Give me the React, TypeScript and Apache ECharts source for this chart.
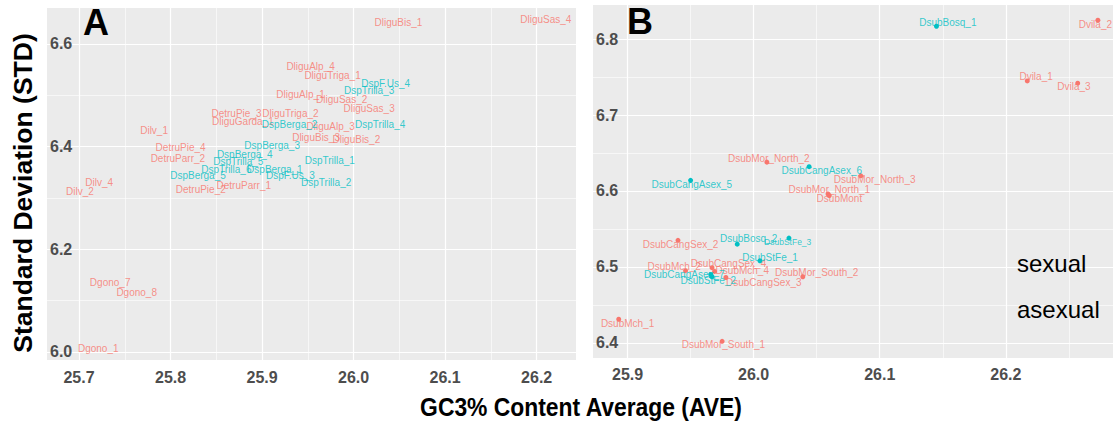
import React, { useEffect, useRef } from "react";
import * as echarts from "echarts";

const SEXUAL_COLOR = "#F8766D";
const ASEXUAL_COLOR = "#00BFC4";
const FONT = "'Liberation Sans', Arial, Helvetica, sans-serif";

// ---------- Panel A (labels only) ----------
const A_SEX_NAMES = [
  "DliguBis_1", "DliguSas_4", "DliguAlp_4", "DliguTriga_1", "DliguAlp_1", "DliguSas_2",
  "DliguSas_3", "DliguTriga_2", "DliguAlp_3", "DliguBis_3", "DliguBis_2", "DetruPie_3",
  "DliguGarda_1", "Dilv_1", "DetruPie_4", "DetruParr_2", "DetruParr_1", "DetruPie_2",
  "Dilv_4", "Dilv_2", "Dgono_7", "Dgono_8", "Dgono_1",
];
const A_SEX_X = [
  26.049, 26.21, 25.953, 25.977, 25.942, 25.987,
  26.017, 25.931, 25.975, 25.959, 26.003, 25.872,
  25.879, 25.782, 25.811, 25.808, 25.88, 25.833,
  25.722, 25.701, 25.734, 25.763, 25.721,
];
const A_SEX_Y = [
  6.642, 6.648, 6.556, 6.538, 6.501, 6.491,
  6.475, 6.464, 6.439, 6.418, 6.414, 6.464,
  6.449, 6.432, 6.399, 6.377, 6.325, 6.316,
  6.33, 6.312, 6.136, 6.115, 6.007,
];
const A_ASEX_NAMES = [
  "DspF.Us_4", "DspTrilla_3", "DspBerga_2", "DspTrilla_4", "DspBerga_3", "DspTrilla_1",
  "DspBerga_1", "DspF.Us_3", "DspTrilla_2", "DspBerga_4", "DspTrilla_5", "DspTrilla_6",
  "DspBerga_5",
];
const A_ASEX_X = [
  26.035, 26.017, 25.93, 26.029, 25.911, 25.974,
  25.914, 25.931, 25.97, 25.881, 25.874, 25.861,
  25.83,
];
const A_ASEX_Y = [
  6.523, 6.509, 6.442, 6.442, 6.402, 6.373,
  6.356, 6.343, 6.33, 6.385, 6.371, 6.356,
  6.343,
];

// ---------- Panel B (points + labels) ----------
const B_SEX_NAMES = [
  "DsubMor_North_2", "DsubMor_North_3", "DsubMor_North_1", "DsubMont", "DsubCangSex_2",
  "DsubCangSex_4", "DsubMch_4", "DsubMch_2", "DsubCangSex_3", "DsubMor_South_2",
  "DsubMch_1", "DsubMor_South_1", "Dvila_2", "Dvila_1", "Dvila_3",
];
const B_SEX_X = [26.0105, 26.085, 26.059, 26.06, 25.94, 25.967, 25.969, 25.946, 25.978, 26.039, 25.893, 25.975, 26.273, 26.217, 26.257];
const B_SEX_Y = [6.638, 6.62, 6.596, 6.594, 6.535, 6.499, 6.494, 6.495, 6.486, 6.487, 6.431, 6.402, 6.825, 6.745, 6.742];
const B_SEX_LABEL_X = [26.012, 26.096, 26.06, 26.068, 25.942, 25.98, 25.991, 25.937, 26.008, 26.05, 25.9, 25.976, 26.271, 26.224, 26.254];
const B_SEX_LABEL_Y = [6.643, 6.615, 6.602, 6.59, 6.529, 6.505, 6.495, 6.501, 6.48, 6.492, 6.426, 6.398, 6.819, 6.751, 6.738];

const B_ASEX_NAMES = [
  "DsubCangAsex_6", "DsubCangAsex_5", "DsubBosq_2", "DsubStFe_3", "DsubStFe_1",
  "DsubCangAsex_7", "DsubStFe_2", "DsubBosq_1",
];
const B_ASEX_X = [26.044, 25.95, 25.987, 26.028, 26.005, 25.966, 25.967, 26.145];
const B_ASEX_Y = [6.632, 6.614, 6.53, 6.538, 6.508, 6.49, 6.487, 6.817];
const B_ASEX_LABEL_X = [26.054, 25.951, 25.996, 26.027, 26.013, 25.945, 25.964, 26.154];
const B_ASEX_LABEL_Y = [6.627, 6.609, 6.537, 6.533, 6.513, 6.49, 6.482, 6.822];
const B_SMALL_LABELS = ["DsubStFe_3"];

// ---------- Axes ----------
const A_X_RANGE = [25.665, 26.243];
const A_Y_RANGE = [5.984, 6.67];
const B_X_RANGE = [25.8726, 26.285];
const B_Y_RANGE = [6.38, 6.845];
const A_X_MAJOR = [25.7, 25.8, 25.9, 26.0, 26.1, 26.2];
const A_X_MINOR = [25.75, 25.85, 25.95, 26.05, 26.15];
const A_Y_MAJOR = [6.0, 6.2, 6.4, 6.6];
const A_Y_MINOR = [6.1, 6.3, 6.5];
const B_X_MAJOR = [25.9, 26.0, 26.1, 26.2];
const B_X_MINOR = [25.95, 26.05, 26.15, 26.25];
const B_Y_MAJOR = [6.4, 6.5, 6.6, 6.7, 6.8];
const B_Y_MINOR = [6.45, 6.55, 6.65, 6.75];

const TICK_LABEL_STYLE = {
  color: "#4D4D4D",
  fontSize: 16,
  fontWeight: "bold",
  fontFamily: FONT,
};

function makeAxis(
  dim: "x" | "y",
  gridIndex: number,
  range: number[],
  ticks: number[],
  major: boolean,
  labelMargin: number
) {
  return {
    type: "value",
    gridIndex,
    min: range[0],
    max: range[1],
    position: dim === "x" ? "bottom" : "left",
    axisLine: { show: false },
    axisTick: { show: false, customValues: ticks },
    axisLabel: {
      show: major,
      customValues: ticks,
      inside: dim === "y",
      margin: labelMargin,
      formatter: (v: number) => v.toFixed(1),
      ...TICK_LABEL_STYLE,
    },
    splitLine: {
      show: true,
      showMinLine: true,
      showMaxLine: true,
      lineStyle: { color: "#FFFFFF", width: major ? 1.2 : 0.6 },
    },
    minorTick: { show: false },
    minorSplitLine: { show: false },
  };
}

function labelSeries(
  names: string[],
  xs: number[],
  ys: number[],
  color: string,
  xAxisIndex: number,
  yAxisIndex: number
) {
  return {
    type: "scatter",
    xAxisIndex,
    yAxisIndex,
    symbol: "circle",
    symbolSize: 1,
    itemStyle: { color: "rgba(0,0,0,0)" },
    silent: true,
    clip: false,
    z: 3,
    label: {
      show: true,
      position: "inside",
      formatter: "{b}",
      color,
      fontSize: 10,
      fontFamily: FONT,
    },
    data: names.map((n, i) => {
      const item: any = { name: n, value: [xs[i], ys[i]] };
      if (B_SMALL_LABELS.includes(n)) item.label = { fontSize: 8.5 };
      return item;
    }),
  };
}

function pointSeries(xs: number[], ys: number[], color: string, xAxisIndex: number, yAxisIndex: number) {
  return {
    type: "scatter",
    xAxisIndex,
    yAxisIndex,
    symbol: "circle",
    symbolSize: 5,
    itemStyle: { color, opacity: 1 },
    silent: true,
    z: 2,
    data: xs.map((x, i) => [x, ys[i]]),
  };
}

export default function App() {
  const ref = useRef<HTMLDivElement | null>(null);

  useEffect(() => {
    document.body.style.margin = "0";
    if (!ref.current) return;
    const chart = echarts.init(ref.current, null, { renderer: "svg" });
    const option: any = {
      animation: false,
      backgroundColor: "#FFFFFF",
      grid: [
        { left: 47, top: 8, width: 529, height: 352, show: true, backgroundColor: "#EBEBEB", borderWidth: 0, containLabel: false },
        { left: 593, top: 5, width: 520, height: 353, show: true, backgroundColor: "#EBEBEB", borderWidth: 0, containLabel: false },
      ],
      xAxis: [
        makeAxis("x", 0, A_X_RANGE, A_X_MAJOR, true, 9),
        makeAxis("x", 0, A_X_RANGE, A_X_MINOR, false, 9),
        makeAxis("x", 1, B_X_RANGE, B_X_MAJOR, true, 8),
        makeAxis("x", 1, B_X_RANGE, B_X_MINOR, false, 8),
      ],
      yAxis: [
        makeAxis("y", 0, A_Y_RANGE, A_Y_MAJOR, true, 3),
        makeAxis("y", 0, A_Y_RANGE, A_Y_MINOR, false, 3),
        makeAxis("y", 1, B_Y_RANGE, B_Y_MAJOR, true, 3),
        makeAxis("y", 1, B_Y_RANGE, B_Y_MINOR, false, 3),
      ],
      series: [
        labelSeries(A_SEX_NAMES, A_SEX_X, A_SEX_Y, SEXUAL_COLOR, 0, 0),
        labelSeries(A_ASEX_NAMES, A_ASEX_X, A_ASEX_Y, ASEXUAL_COLOR, 0, 0),
        pointSeries(B_SEX_X, B_SEX_Y, SEXUAL_COLOR, 2, 2),
        pointSeries(B_ASEX_X, B_ASEX_Y, ASEXUAL_COLOR, 2, 2),
        labelSeries(B_SEX_NAMES, B_SEX_LABEL_X, B_SEX_LABEL_Y, SEXUAL_COLOR, 2, 2),
        labelSeries(B_ASEX_NAMES, B_ASEX_LABEL_X, B_ASEX_LABEL_Y, ASEXUAL_COLOR, 2, 2),
      ],
      graphic: [
        {
          type: "text",
          left: 83,
          top: 4,
          z: 10,
          style: { text: "A", fontSize: 36, fontWeight: "bold", fill: "#000", fontFamily: FONT },
        },
        {
          type: "text",
          left: 627,
          top: 3,
          z: 10,
          style: { text: "B", fontSize: 36, fontWeight: "bold", fill: "#000", fontFamily: FONT },
        },
        {
          type: "text",
          x: 1017,
          y: 263.4,
          z: 10,
          style: { text: "sexual", fontSize: 24, fill: "#000", fontFamily: FONT, verticalAlign: "middle", align: "left" },
        },
        {
          type: "text",
          x: 1017,
          y: 309,
          z: 10,
          style: { text: "asexual", fontSize: 24, fill: "#000", fontFamily: FONT, verticalAlign: "middle", align: "left" },
        },
        {
          type: "text",
          x: 22.5,
          y: 193,
          rotation: Math.PI / 2,
          z: 10,
          style: {
            text: "Standard Deviation (STD)",
            fontSize: 26.5,
            fontWeight: "bold",
            fill: "#000",
            fontFamily: FONT,
            align: "center",
            verticalAlign: "middle",
          },
        },
        {
          type: "text",
          x: 581,
          y: 407,
          scaleX: 0.88,
          z: 10,
          style: {
            text: "GC3% Content Average (AVE)",
            fontSize: 26,
            fontWeight: "bold",
            fill: "#000",
            fontFamily: FONT,
            align: "center",
            verticalAlign: "middle",
          },
        },
      ],
    };
    chart.setOption(option);
    return () => chart.dispose();
  }, []);

  return <div ref={ref} style={{ width: 1113, height: 427 }} />;
}
